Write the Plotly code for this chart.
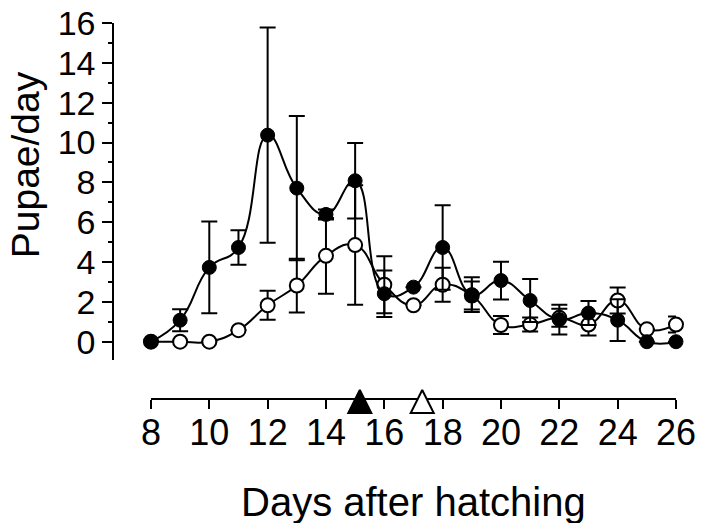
import plotly.graph_objects as go

# ---- data ----
days = list(range(8, 27))
x_ticks = list(range(8, 27, 2))
y_ticks = list(range(0, 17, 2))

filled_mean = [0.0, 1.08, 3.73, 4.73, 10.37, 7.71, 6.39, 8.08, 2.41, 2.74,
               4.73, 2.36, 3.07, 2.07, 1.11, 1.44, 1.08, 0.0, 0.0]
filled_err = [0.0, 0.55, 2.30, 0.87, 5.40, 3.62, 0.25, 1.90, 1.17, 0.0,
              2.12, 0.87, 0.95, 1.08, 0.75, 0.60, 1.05, 0.0, 0.0]

open_mean = [0.0, 0.0, 0.0, 0.58, 1.83, 2.82, 4.31, 4.85, 2.86, 1.83,
             2.86, 2.32, 0.84, 0.86, 1.20, 0.86, 2.07, 0.62, 0.86]
open_err = [0.0, 0.0, 0.0, 0.0, 0.73, 1.35, 1.90, 3.00, 1.43, 0.0,
            0.85, 0.70, 0.45, 0.35, 0.45, 0.55, 0.65, 0.0, 0.40]

# median pupation days shown as triangles on the x axis
tri_days = [15.16, 17.3]
tri_fill = ["black", "white"]

# ---- layout geometry (page pixels; the page body has an 8px margin) ----
OFF = 8
W, H = 704 - OFF, 523 - OFF
ML, MR, MT, MB = 100 - OFF, 27.5, 22.7 - OFF, 124
PW = W - ML - MR
PH = H - MT - MB


def fx(p):
    return (p - OFF - ML) / PW


def fy(p):
    return (H - MB - (p - OFF)) / PH


FONT = "Liberation Sans, Arial, sans-serif"

fig = go.Figure()

# open circles series (drawn first)
fig.add_trace(go.Scatter(
    x=days, y=open_mean, mode="lines+markers",
    line=dict(color="black", width=2, shape="spline", smoothing=1.3),
    marker=dict(symbol="circle", size=14, color="white",
                line=dict(color="black", width=2)),
    error_y=dict(type="data", array=open_err, visible=True,
                 color="black", thickness=2, width=8),
    cliponaxis=False, showlegend=False,
))

# filled circles series
fig.add_trace(go.Scatter(
    x=days, y=filled_mean, mode="lines+markers",
    line=dict(color="black", width=2, shape="spline", smoothing=1.3),
    marker=dict(symbol="circle", size=14, color="black",
                line=dict(color="black", width=1)),
    error_y=dict(type="data", array=filled_err, visible=True,
                 color="black", thickness=2, width=8),
    cliponaxis=False, showlegend=False,
))

# triangles on the x axis
for d, c in zip(tri_days, tri_fill):
    fig.add_trace(go.Scatter(
        x=[d], y=[0], xaxis="x", yaxis="y2", mode="markers",
        marker=dict(symbol="arrow-up", size=23, color=c,
                    line=dict(color="black", width=2)),
        cliponaxis=False, showlegend=False,
    ))

fig.update_layout(
    width=W, height=H,
    margin=dict(l=ML, r=MR, t=MT, b=MB, pad=0),
    paper_bgcolor="white", plot_bgcolor="white",
    font=dict(family=FONT, color="black"),
    xaxis=dict(
        domain=[fx(151), 1], range=[8, 26], anchor="free", position=0,
        showline=True, linecolor="black", linewidth=2,
        ticks="outside", ticklen=9, tickwidth=2, tickcolor="black",
        tickvals=x_ticks, ticktext=[str(v) for v in x_ticks],
        tickfont=dict(size=36, family=FONT, color="black"),
        ticklabelstandoff=-7, ticklabeloverflow="allow",
        showgrid=False, zeroline=False, automargin=False,
    ),
    yaxis=dict(
        domain=[fy(360), 1], range=[-0.92, 16], anchor="free",
        position=fx(113.3),
        showline=True, linecolor="black", linewidth=2,
        ticks="outside", ticklen=10, tickwidth=2, tickcolor="black",
        tickvals=y_ticks, ticktext=[str(v) for v in y_ticks],
        tickfont=dict(size=34, family=FONT, color="black"),
        ticklabeloverflow="allow",
        minor=dict(ticks="outside", ticklen=4, tickwidth=2,
                   tickcolor="black", dtick=1, tick0=0),
        showgrid=False, zeroline=False, automargin=False,
    ),
    yaxis2=dict(
        domain=[0, fy(360)], range=[-0.23, 0.77], anchor="free", position=0,
        visible=False, showgrid=False, zeroline=False,
    ),
    annotations=[
        dict(text="Pupae/day", xref="paper", yref="paper",
             x=fx(25), y=fy(165), xanchor="center", yanchor="middle",
             textangle=-90, showarrow=False,
             font=dict(size=39, family=FONT, color="black")),
        dict(text="Days after hatching", xref="paper", yref="paper",
             x=fx(414), y=fy(502), xanchor="center", yanchor="middle",
             showarrow=False,
             font=dict(size=40, family=FONT, color="black")),
    ],
)

fig.write_html("out.html")
